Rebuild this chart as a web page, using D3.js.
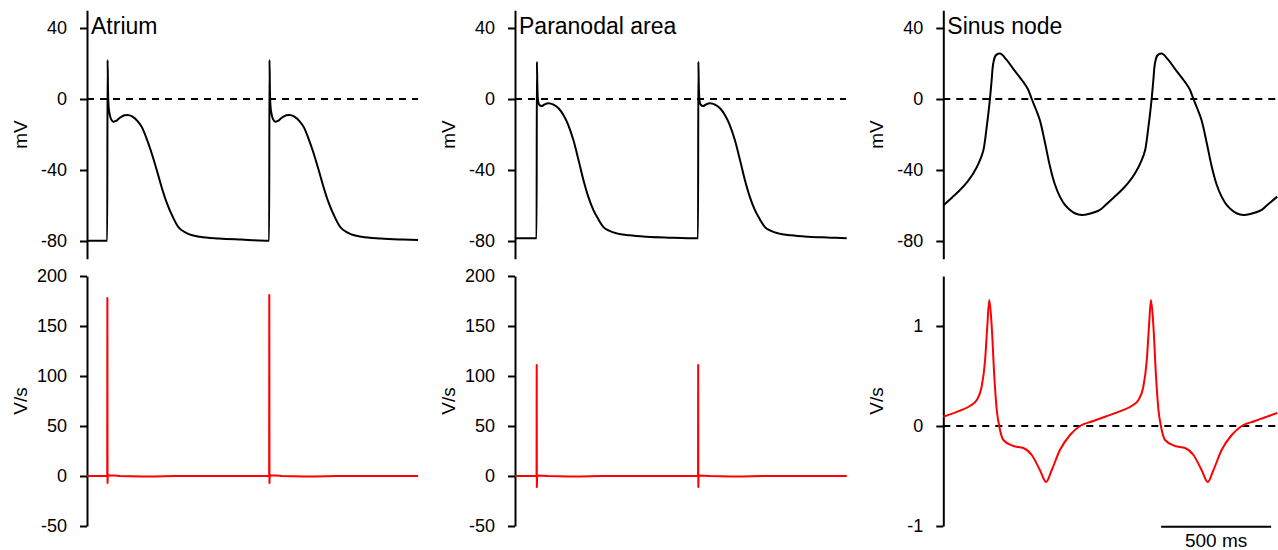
<!DOCTYPE html>
<html><head><meta charset="utf-8">
<script src="https://cdn.jsdelivr.net/npm/d3@7"></script>
<style>
body{margin:0;background:#fff}
svg{display:block}
text{font-family:"Liberation Sans",Arial,Helvetica,sans-serif;fill:#000}
</style>
</head><body>
<svg id="chart" width="1278" height="550"></svg>
<script>
// ---------- DATA (time in ms, membrane potential in mV, dV/dt in V/s) ----------
const panelTitles = ["Atrium", "Paranodal area", "Sinus node"];
const vmTicks = [40, 0, -40, -80];
const fastDvdtTicks = [200, 150, 100, 50, 0, -50];
const sinusDvdtTicks = [1, 0, -1];
const vmLabel = "mV";
const dvdtLabel = "V/s";
const scaleBarLabel = "500 ms";
const scaleBarMs = 500;
const scaleBarStart = 990;

const atriumVm = [
  [0,-79.8],[92,-79.8],[93.5,22],[95.5,5],[98,-4],[103,-8.5],[110,-11.5],[120,-12.8],[130,-12.5],
  [150,-10.5],[170,-9.2],[185,-9],[205,-9.8],[230,-12.5],[250,-16],[270,-22],[290,-29],[317,-40],
  [340,-50],[361,-58],[392,-67],[414,-72],[453,-75.5],[513,-77.6],[600,-78.6],[700,-79.2],[828,-79.8],
  [829.5,22],[831.5,5],[834,-4],[839,-8.5],[846,-11.5],[856,-12.8],[866,-12.5],[886,-10.5],[906,-9.2],
  [921,-9],[941,-9.8],[966,-12.5],[986,-16],[1006,-22],[1026,-29],[1053,-40],[1076,-50],[1097,-58],
  [1128,-67],[1150,-72],[1189,-75.5],[1249,-77.6],[1336,-78.6],[1436,-79.2],[1505,-79.5]
];
const atriumDvdt = [
  [0,0],[92,0],[92.6,178],[93.4,-7],[94.5,0],[100,0.6],[125,0.5],[150,0],[250,-0.4],[300,-0.6],[350,-0.3],[400,0],
  [828,0],[828.6,181],[829.4,-7],[830.5,0],[836,0.6],[861,0.5],[886,0],[986,-0.4],[1036,-0.6],[1086,-0.3],[1136,0],[1505,0]
];

const paranodalVm = [
  [0,-78.5],[98,-78.5],[99.5,21],[101.5,8],[104,0],[109,-3],[121,-4],[135,-3],[152,-2.4],[175,-3.2],
  [200,-5.5],[220,-9],[240,-14],[265,-23],[290,-35],[311,-45.6],[333,-55],[356,-62.5],[380,-68],
  [401,-72],[430,-74.3],[462,-75.7],[520,-76.8],[599,-77.6],[700,-78.1],[832,-78.5],
  [833.5,21],[835.5,8],[838,0],[843,-3],[855,-4],[869,-3],[886,-2.4],[909,-3.2],[934,-5.5],[954,-9],
  [974,-14],[999,-23],[1024,-35],[1045,-45.6],[1067,-55],[1090,-62.5],[1114,-68],[1135,-72],
  [1164,-74.3],[1196,-75.7],[1254,-76.8],[1333,-77.6],[1434,-78.1],[1508,-78.5]
];
const paranodalDvdt = [
  [0,0],[98,0],[98.6,111],[99.3,-11],[100.5,0],[105,0.4],[150,0],[250,-0.4],[300,-0.6],[340,-0.3],[400,0],
  [832,0],[832.6,111],[833.3,-11],[834.5,0],[839,0.4],[884,0],[984,-0.4],[1034,-0.6],[1074,-0.3],[1134,0],[1508,0]
];

const sinusVm = [
  [0,-60],[40,-55.5],[76,-51.3],[110,-46.5],[136,-42],[165,-35],[182,-29],[190,-23],[197,-16],[205,-8],
  [212,0],[220,11],[227,20],[238,24.5],[258,25.6],[285,22.5],[318,17],[364,9.5],[385,5.5],[402,0],
  [420,-5.5],[439,-12],[462,-24.5],[485,-38],[507,-48],[530,-55],[552,-59.5],[576,-62.5],[600,-64.5],
  [629,-65.3],[660,-64.8],[712,-62.5],[735,-60],[775,-55.5],[811,-51.3],[845,-46.5],[871,-42],[900,-35],
  [917,-29],[925,-23],[932,-16],[940,-8],[947,0],[955,11],[962,20],[973,24.5],[993,25.6],[1020,22.5],
  [1053,17],[1099,9.5],[1120,5.5],[1137,0],[1155,-5.5],[1174,-12],[1197,-24.5],[1220,-38],[1242,-48],
  [1265,-55],[1287,-59.5],[1311,-62.5],[1335,-64.5],[1364,-65.3],[1395,-64.8],[1447,-62.5],[1470,-60],[1518,-55]
];
const sinusDvdt = [
  [0,0.093],[76,0.153],[121,0.2],[152,0.26],[174,0.39],[190,0.66],[200,1.0],[209,1.26],[220,1.0],
  [232,0.49],[243,0.16],[255,-0.01],[273,-0.14],[318,-0.2],[364,-0.22],[402,-0.29],[439,-0.44],
  [467,-0.56],[493,-0.44],[530,-0.24],[576,-0.09],[621,0],[682,0.05],[735,0.093],[811,0.153],
  [856,0.2],[887,0.26],[909,0.39],[925,0.66],[935,1.0],[944,1.26],[955,1.0],[967,0.49],[978,0.16],
  [990,-0.01],[1008,-0.14],[1053,-0.2],[1099,-0.22],[1137,-0.29],[1174,-0.44],[1202,-0.56],[1228,-0.44],
  [1265,-0.24],[1311,-0.09],[1356,0],[1417,0.05],[1470,0.093],[1518,0.13]
];

// ---------- LAYOUT ----------
const svg = d3.select("#chart");
const axisXs = [87, 515, 943.3];
const pxPerMs = 0.22;
const topRange = [258.75, 10.25];
const botRange = [526, 276];
const tickFont = 18;
const labelFont = 19;

const panels = [
  {title: panelTitles[0], vm: atriumVm, vmCurve: d3.curveMonotoneX, dv: atriumDvdt, dvDomain: [-50, 200], dvTicks: fastDvdtTicks, dvCurve: d3.curveLinear, dvZero: false, end: 1505},
  {title: panelTitles[1], vm: paranodalVm, vmCurve: d3.curveMonotoneX, dv: paranodalDvdt, dvDomain: [-50, 200], dvTicks: fastDvdtTicks, dvCurve: d3.curveLinear, dvZero: false, end: 1505},
  {title: panelTitles[2], vm: sinusVm, vmCurve: d3.curveCatmullRom.alpha(0.5), dv: sinusDvdt, dvDomain: [-1, 1.5], dvTicks: sinusDvdtTicks, dvCurve: d3.curveMonotoneX, dvZero: true, end: 1520}
];

function styleAxis(g) {
  g.selectAll("path,line").attr("stroke", "#000").attr("stroke-width", 2);
  g.selectAll("text").attr("font-size", tickFont).attr("font-family", '"Liberation Sans",Arial,sans-serif').attr("fill", "#000");
}

panels.forEach((p, i) => {
  const ax = axisXs[i];
  const x = d3.scaleLinear().domain([0, 1500]).range([ax, ax + 1500 * pxPerMs]);
  const yTop = d3.scaleLinear().domain([-90, 50]).range(topRange);
  const yBot = d3.scaleLinear().domain(p.dvDomain).range(botRange);

  const gt = svg.append("g").attr("transform", `translate(${ax},0)`)
    .call(d3.axisLeft(yTop).tickValues(vmTicks).tickSizeInner(7).tickSizeOuter(0).tickPadding(13).tickFormat(d => String(d)));
  styleAxis(gt);
  const gb = svg.append("g").attr("transform", `translate(${ax},0)`)
    .call(d3.axisLeft(yBot).tickValues(p.dvTicks).tickSizeInner(7).tickSizeOuter(0).tickPadding(13).tickFormat(d => String(d)));
  styleAxis(gb);

  svg.append("text").attr("transform", `translate(${ax - 60},${(topRange[0] + topRange[1]) / 2}) rotate(-90)`)
    .attr("text-anchor", "middle").attr("font-size", labelFont).text(vmLabel);
  svg.append("text").attr("transform", `translate(${ax - 60},${(botRange[0] + botRange[1]) / 2}) rotate(-90)`)
    .attr("text-anchor", "middle").attr("font-size", labelFont).text(dvdtLabel);

  svg.append("text").attr("x", ax + 4).attr("y", 34).attr("font-size", 23).text(p.title);

  svg.append("line").attr("x1", x(0)).attr("x2", x(p.end)).attr("y1", yTop(0)).attr("y2", yTop(0))
    .attr("stroke", "#000").attr("stroke-width", 2).attr("stroke-dasharray", "7,6");
  if (p.dvZero) {
    svg.append("line").attr("x1", x(0)).attr("x2", x(p.end)).attr("y1", yBot(0)).attr("y2", yBot(0))
      .attr("stroke", "#000").attr("stroke-width", 2).attr("stroke-dasharray", "7,6");
  }

  const lineTop = d3.line().x(d => x(d[0])).y(d => yTop(d[1])).curve(p.vmCurve);
  svg.append("path").datum(p.vm).attr("d", lineTop).attr("fill", "none").attr("stroke", "#000")
    .attr("stroke-width", 2).attr("stroke-linejoin", "round");
  const lineBot = d3.line().x(d => x(d[0])).y(d => yBot(d[1])).curve(p.dvCurve);
  svg.append("path").datum(p.dv).attr("d", lineBot).attr("fill", "none").attr("stroke", "#ff0000")
    .attr("stroke-width", 2).attr("stroke-linejoin", "round");

  if (i === 2) {
    svg.append("line").attr("x1", x(scaleBarStart)).attr("x2", x(scaleBarStart + scaleBarMs))
      .attr("y1", botRange[0] + 0.7).attr("y2", botRange[0] + 0.7).attr("stroke", "#000").attr("stroke-width", 2);
    svg.append("text").attr("x", (x(scaleBarStart) + x(scaleBarStart + scaleBarMs)) / 2).attr("y", 547)
      .attr("text-anchor", "middle").attr("font-size", labelFont).text(scaleBarLabel);
  }
});
</script>
</body></html>
